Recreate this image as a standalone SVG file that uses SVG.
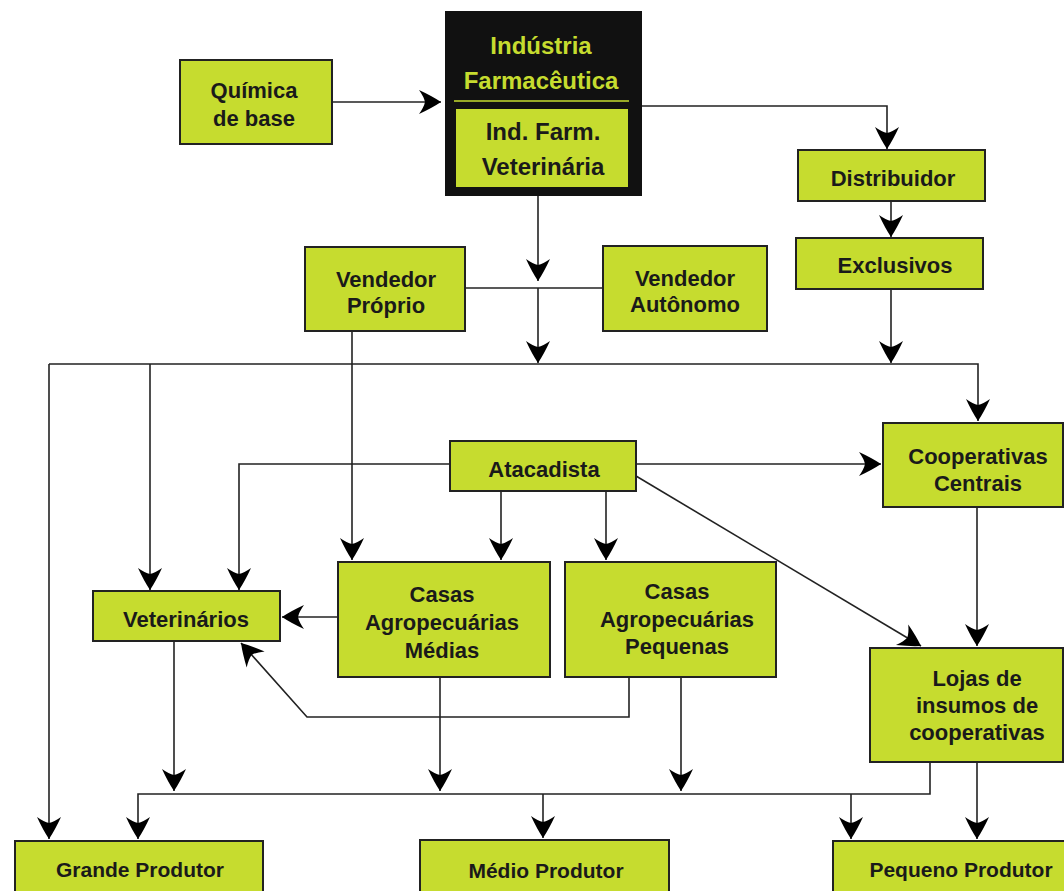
<svg xmlns="http://www.w3.org/2000/svg" width="1064" height="891" viewBox="0 0 1064 891">
<style>
.box{fill:#c6dc2f;stroke:#222;stroke-width:2}
.t{font-family:"Liberation Sans",Arial,sans-serif;font-weight:bold;font-size:22px;fill:#1a1a1a;text-anchor:middle}
.tg{font-family:"Liberation Sans",Arial,sans-serif;font-weight:bold;font-size:24px;fill:#c6dc2f;text-anchor:middle}
.tb{font-family:"Liberation Sans",Arial,sans-serif;font-weight:bold;font-size:24px;fill:#1a1a1a;text-anchor:middle}
.tp{font-family:"Liberation Sans",Arial,sans-serif;font-weight:bold;font-size:21px;fill:#1a1a1a;text-anchor:middle}
.c{fill:none;stroke:#222;stroke-width:1.6}
.a{marker-end:url(#ah)}
</style>
<defs>
<marker id="ah" viewBox="-24 -13 26 26" refX="0" refY="0" markerWidth="26" markerHeight="26" markerUnits="userSpaceOnUse" orient="auto">
<path d="M0,0 Q-9,-6 -22,-12 Q-17,-5 -16,0 Q-17,5 -22,12 Q-9,6 0,0 Z" fill="#000"/>
</marker>
</defs>
<rect width="1064" height="891" fill="#fff"/>

<g id="connectors">
<path class="c a" d="M332,102 H441"/>
<path class="c a" d="M642,106 H887 V149"/>
<path class="c a" d="M891,201 V237"/>
<path class="c a" d="M891,289 V363"/>
<path class="c a" d="M538,196 V281"/>
<path class="c" d="M465,288 H603"/>
<path class="c a" d="M538,288 V363"/>
<path class="c a" d="M49,364 H978 V421"/>
<path class="c a" d="M49,364 V839"/>
<path class="c a" d="M150,364 V590"/>
<path class="c a" d="M352,331 V560"/>
<path class="c a" d="M450,464 H239 V590"/>
<path class="c a" d="M636,464 H881"/>
<path class="c a" d="M636,476 L921,646"/>
<path class="c a" d="M501,491 V560"/>
<path class="c a" d="M606,491 V560"/>
<path class="c a" d="M338,617 H282"/>
<path class="c a" d="M629,677 V717 H307 L241,643"/>
<path class="c a" d="M977,507 V646"/>
<path class="c a" d="M174,641 V791"/>
<path class="c a" d="M440,677 V791"/>
<path class="c a" d="M681,677 V791"/>
<path class="c a" d="M930,762 V794 H138 V839"/>
<path class="c a" d="M543,794 V838"/>
<path class="c a" d="M851,794 V839"/>
<path class="c a" d="M977,762 V839"/>
</g>

<g id="quimica">
<rect class="box" x="180" y="60" width="152" height="84"/>
<text class="t" x="254" y="98">Química</text>
<text class="t" x="254" y="126">de base</text>
</g>

<g id="industria">
<rect x="445" y="11" width="197" height="185" fill="#111"/>
<text class="tg" x="541" y="54">Indústria</text>
<text class="tg" x="541" y="89">Farmacêutica</text>
<line x1="454" y1="101" x2="629" y2="101" stroke="#c6dc2f" stroke-width="1.5"/>
<rect x="456" y="109" width="172" height="78" fill="#c6dc2f"/>
<text class="tb" x="543" y="140">Ind. Farm.</text>
<text class="tb" x="543" y="175">Veterinária</text>
</g>

<g id="distribuidor">
<rect class="box" x="798" y="150" width="187" height="51"/>
<text class="t" x="893" y="186">Distribuidor</text>
</g>

<g id="exclusivos">
<rect class="box" x="796" y="238" width="187" height="51"/>
<text class="t" x="895" y="273">Exclusivos</text>
</g>

<g id="vendedor-proprio">
<rect class="box" x="305" y="247" width="160" height="84"/>
<text class="t" x="386" y="287">Vendedor</text>
<text class="t" x="386" y="313">Próprio</text>
</g>

<g id="vendedor-autonomo">
<rect class="box" x="603" y="246" width="164" height="85"/>
<text class="t" x="685" y="286">Vendedor</text>
<text class="t" x="685" y="312">Autônomo</text>
</g>

<g id="atacadista">
<rect class="box" x="450" y="441" width="186" height="50"/>
<text class="t" x="544" y="477">Atacadista</text>
</g>

<g id="cooperativas-centrais">
<rect class="box" x="883" y="423" width="180" height="84"/>
<text class="t" x="978" y="464">Cooperativas</text>
<text class="t" x="978" y="491">Centrais</text>
</g>

<g id="veterinarios">
<rect class="box" x="93" y="591" width="187" height="50"/>
<text class="t" x="186" y="627">Veterinários</text>
</g>

<g id="casas-medias">
<rect class="box" x="338" y="562" width="212" height="115"/>
<text class="t" x="442" y="602">Casas</text>
<text class="t" x="442" y="630">Agropecuárias</text>
<text class="t" x="442" y="658">Médias</text>
</g>

<g id="casas-pequenas">
<rect class="box" x="565" y="562" width="211" height="115"/>
<text class="t" x="677" y="599">Casas</text>
<text class="t" x="677" y="627">Agropecuárias</text>
<text class="t" x="677" y="654">Pequenas</text>
</g>

<g id="lojas">
<rect class="box" x="870" y="648" width="193" height="114"/>
<text class="t" x="977" y="686">Lojas de</text>
<text class="t" x="977" y="713">insumos de</text>
<text class="t" x="977" y="740">cooperativas</text>
</g>

<g id="grande-produtor">
<rect class="box" x="15" y="841" width="248" height="60"/>
<text class="tp" x="140" y="877">Grande Produtor</text>
</g>

<g id="medio-produtor">
<rect class="box" x="420" y="840" width="249" height="61"/>
<text class="tp" x="546" y="878">Médio Produtor</text>
</g>

<g id="pequeno-produtor">
<rect class="box" x="833" y="841" width="257" height="60"/>
<text class="tp" x="961" y="877">Pequeno Produtor</text>
</g>
</svg>
